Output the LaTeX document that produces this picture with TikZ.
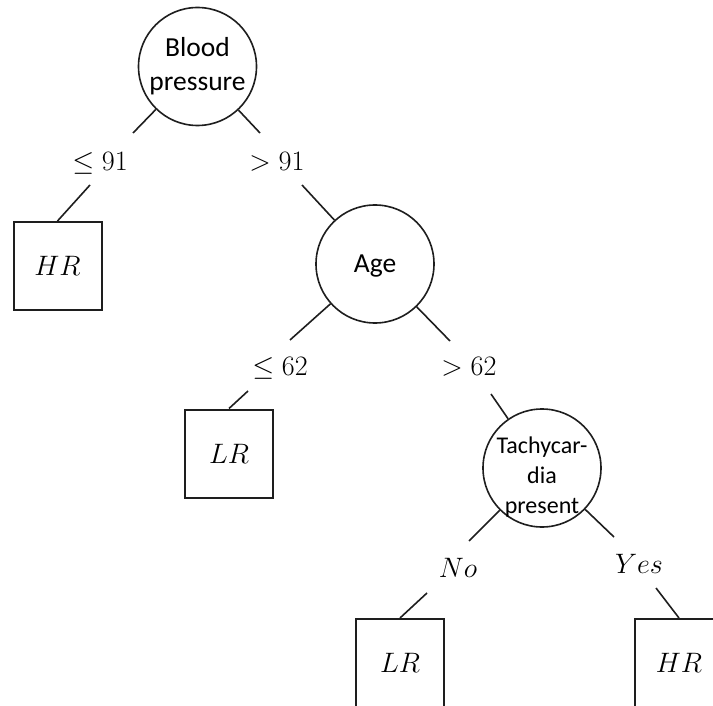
\documentclass[tikz,border=0pt]{standalone}
\usepackage{fontspec}
\usepackage{graphicx}
\newfontfamily\carlito{Carlito}
\definecolor{ink}{RGB}{30,30,30}
% math set at the largest design size, then enlarged
\newcommand{\bigmath}[1]{\scalebox{1.13}{$#1$}}
\begin{document}
\begin{tikzpicture}[x=1pt,y=-1pt,
  decision/.style={circle, draw=ink, line width=1.6pt, minimum size=118pt, inner sep=0pt},
  leaf/.style={rectangle, draw=ink, line width=2pt, minimum width=88pt, minimum height=88pt,
    inner sep=0pt, font=\fontsize{24.88}{30}\selectfont},
  nodetext/.style={align=center, inner sep=0pt, text=black},
  branch/.style={inner sep=0pt, anchor=base, font=\fontsize{24.88}{30}\selectfont},
  edge/.style={draw=ink, line width=1.6pt}]
\clip (0,0) rectangle (713,706);

% decision nodes
\node[decision, label={[nodetext, font=\carlito\fontsize{27.5}{34}\selectfont]center:Blood\\pressure}] (bp) at (197.5,66.5) {};
\node[decision, label={[nodetext, font=\carlito\fontsize{27.5}{34}\selectfont, yshift=-2pt]center:Age}] (age) at (375,264) {};
\node[decision, label={[nodetext, font=\carlito\fontsize{24}{30}\selectfont, yshift=-9pt]center:Tachycar-\\dia\\present}] (tachy) at (542,468) {};

% leaves
\node[leaf] (hr1) at (57.5,266) {\bigmath{HR}};
\node[leaf] (lr1) at (229,453.5) {\bigmath{LR}};
\node[leaf] (lr2) at (400,663) {\bigmath{LR}};
\node[leaf] (hr2) at (679,663) {\bigmath{HR}};

% branch labels
\node[branch] (l91) at (100,171) {\bigmath{\leq 91}};
\node[branch] (g91) at (277,171) {\bigmath{> 91}};
\node[branch] (l62) at (280,375) {\bigmath{\leq 62}};
\node[branch] (g62) at (469,375) {\bigmath{> 62}};
\node[branch] (no) at (458,577) {\bigmath{No}};
\node[branch] (yes) at (639,573) {\bigmath{Yes}};

% connector ends beside the labels
\coordinate (a1) at (133,133); \coordinate (a2) at (90,185);
\coordinate (b1) at (260,133); \coordinate (b2) at (302,185);
\coordinate (c1) at (290,340); \coordinate (c2) at (248,391);
\coordinate (d1) at (450,341); \coordinate (d2) at (491,394);
\coordinate (e1) at (469,541); \coordinate (e2) at (427,593);
\coordinate (f1) at (614,537); \coordinate (f2) at (656,588);

\draw[edge] (bp) -- (a1);  \draw[edge] (a2) -- (hr1.north);
\draw[edge] (bp) -- (b1);  \draw[edge] (b2) -- (age);
\draw[edge] (age) -- (c1); \draw[edge] (c2) -- (lr1.north);
\draw[edge] (age) -- (d1); \draw[edge] (d2) -- (tachy);
\draw[edge] (tachy) -- (e1); \draw[edge] (e2) -- (lr2.north);
\draw[edge] (tachy) -- (f1); \draw[edge] (f2) -- (hr2.north);
\end{tikzpicture}
\end{document}
